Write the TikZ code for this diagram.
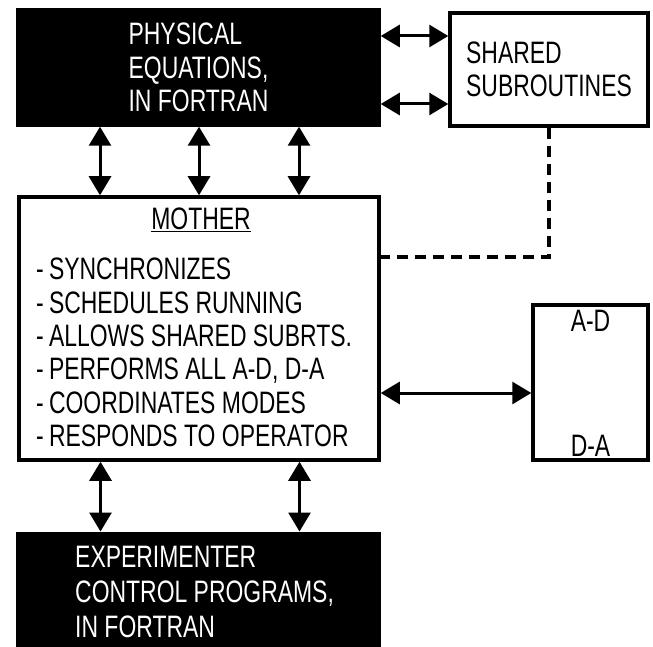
\documentclass[tikz,border=0pt]{standalone}
\usepackage{fontspec}
\setmainfont{Liberation Sans}[FakeStretch=0.74]
\usetikzlibrary{positioning, arrows.meta, calc}

\begin{document}
\begin{tikzpicture}[
  x=1pt, y=-1pt,
  every node/.style={font=\fontsize{31}{33.4}\selectfont, inner sep=0pt},
  blk/.style={fill=black, draw=black, line width=3.5pt, text=white, align=left},
  box/.style={draw=black, line width=3.5pt, fill=white, align=left},
  dbl/.style={{Triangle[length=19pt,width=22pt]}-{Triangle[length=19pt,width=22pt]},
              line width=3pt},
  dsh/.style={line width=3.5pt, dash pattern=on 11pt off 7pt}]
  \useasboundingbox (0,0) rectangle (653,647);
  % boxes
  \node[blk, minimum width=361pt, minimum height=115pt] (phys) at (198.5,67.5)
    {PHYSICAL\\EQUATIONS,\\IN FORTRAN};
  \node[box, minimum width=198pt, minimum height=113pt] (shared) at (549,69.5)
    {SHARED\\SUBROUTINES};
  \node[box, minimum width=360pt, minimum height=263pt] (mother) at (199,328.5) {};
  \node (mtitle) at (201,220) {\underline{MOTHER}};
  \node[anchor=west, align=left] (mlist) at (36,352.5)
    {-\,SYNCHRONIZES\\-\,SCHEDULES RUNNING\\-\,ALLOWS SHARED SUBRTS.\\
     -\,PERFORMS ALL A-D, D-A\\-\,COORDINATES MODES\\-\,RESPONDS TO OPERATOR};
  \node[box, minimum width=115pt, minimum height=155pt] (ad) at (590.5,382.5) {};
  \node (adtop) at (590.5,321) {A-D};
  \node (adbot) at (590.5,446) {D-A};
  \node[blk, minimum width=361pt, minimum height=150pt, anchor=north] (expr) at (198.5,531.5) {};
  \node[anchor=west, align=left, text=white, font=\fontsize{31}{35}\selectfont] (exprtxt) at (75,592)
    {EXPERIMENTER\\CONTROL PROGRAMS,\\IN FORTRAN};
  % links
  \draw[dbl] ([yshift=31.5pt]phys.east) -- ([yshift=31.5pt]phys.east -| shared.west);
  \draw[dbl] ([yshift=-36.5pt]phys.east) -- ([yshift=-36.5pt]phys.east -| shared.west);
  \foreach \dx in {-98.5, 0.5, 100.5}
    \draw[dbl] ([xshift=\dx pt]phys.south) -- ([xshift=\dx pt]phys.south |- mother.north);
  \foreach \dx in {-98.5, 100.5}
    \draw[dbl] ([xshift=\dx pt]mother.south) -- ([xshift=\dx pt]mother.south |- expr.north);
  \draw[dbl] ([yshift=-64.5pt]mother.east) -- ([yshift=-64.5pt]mother.east -| ad.west);
  \draw[dsh] (shared.south) |- ([yshift=71.5pt]mother.east);
\end{tikzpicture}
\end{document}
